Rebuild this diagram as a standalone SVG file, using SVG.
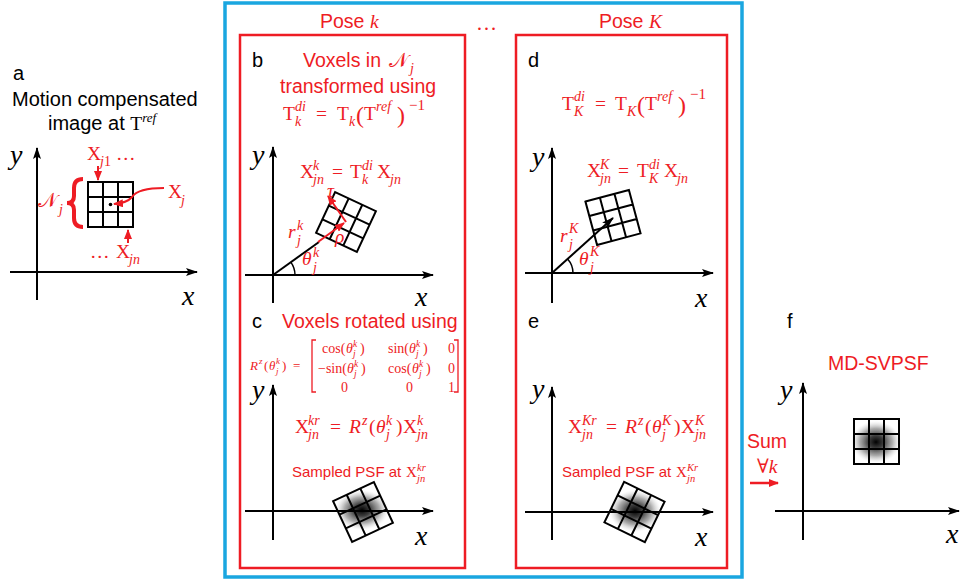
<svg xmlns="http://www.w3.org/2000/svg" xmlns:xlink="http://www.w3.org/1999/xlink" width="960" height="579" viewBox="0 0 960 579">
<defs>
<style>
.lbl{font-family:"Liberation Sans",Arial,sans-serif;font-size:20px;fill:#000}
.rs{font-family:"Liberation Sans",Arial,sans-serif;font-size:19.5px;fill:#ee1c24}
.m{font-family:"Liberation Serif","DejaVu Serif",serif;font-size:19.5px;fill:#ee1c24}
.it{font-style:italic}
.sc{font-size:14px}
.ax{stroke:#000;stroke-width:2;fill:none}
.axl{font-family:"Liberation Serif","DejaVu Serif",serif;font-style:italic;font-size:28px;fill:#000}
.gr{stroke:#000;stroke-width:2;fill:none}
.red{stroke:#ee1c24;fill:none}
</style>
<marker id="ab" viewBox="0 0 12 8" refX="11" refY="4" markerWidth="12" markerHeight="8" markerUnits="userSpaceOnUse" orient="auto"><path d="M0,0 L12,4 L0,8 L2.5,4 z" fill="#000"/></marker>
<marker id="ar" viewBox="0 0 10 8" refX="9" refY="4" markerWidth="10" markerHeight="8" markerUnits="userSpaceOnUse" orient="auto"><path d="M0,0 L10,4 L0,8 z" fill="#ee1c24"/></marker>
<radialGradient id="psf">
<stop offset="0" stop-color="#000" stop-opacity="1"/>
<stop offset="0.3" stop-color="#222" stop-opacity="0.88"/>
<stop offset="0.65" stop-color="#666" stop-opacity="0.55"/>
<stop offset="0.9" stop-color="#aaa" stop-opacity="0.15"/>
<stop offset="1" stop-color="#ccc" stop-opacity="0"/>
</radialGradient>
<g id="grid"><path class="gr" d="M-22.5,-22.5h45v45h-45z M-7.5,-22.5v45 M7.5,-22.5v45 M-22.5,-7.5h45 M-22.5,7.5h45"/></g>
</defs>
<rect width="960" height="579" fill="#fff"/>

<g id="frame">
<rect x="225" y="3" width="517" height="574" fill="none" stroke="#1aa6e0" stroke-width="3.5"/>
<rect x="240" y="35" width="225" height="533" fill="none" stroke="#ee1c24" stroke-width="2.5"/>
<rect x="516" y="35" width="211" height="533" fill="none" stroke="#ee1c24" stroke-width="2.5"/>
<text class="rs" x="320" y="28">Pose <tspan class="m it">k</tspan></text>
<text class="rs" x="599" y="28">Pose <tspan class="m it">K</tspan></text>
<text class="m" x="476" y="30" style="font-size:21px">…</text>
</g>

<g id="panel-a">
<text class="lbl" x="13" y="80">a</text>
<text class="lbl" x="12" y="106">Motion compensated</text>
<text class="lbl" x="48" y="130">image at <tspan class="m" style="fill:#000">T</tspan><tspan class="m it" style="fill:#000;font-size:13px" dy="-8">ref</tspan></text>
<line class="ax" x1="37" y1="300" x2="37" y2="148" marker-end="url(#ab)"/>
<line class="ax" x1="10" y1="272" x2="197" y2="272" marker-end="url(#ab)"/>
<text class="axl" x="10" y="164">y</text>
<text class="axl" x="182" y="305">x</text>
<rect x="88" y="182" width="45" height="45" class="gr"/>
<path class="gr" d="M103,182v45 M118,182v45 M88,197h45 M88,212h45"/>
<circle cx="110.5" cy="204.5" r="1.8" fill="#000"/>
<text class="m"><tspan x="87" y="160">X</tspan><tspan x="100" y="166" class="sc"><tspan class="it">j</tspan>1</tspan><tspan x="116" y="160">…</tspan></text>
<line class="red" stroke-width="2" x1="98" y1="166" x2="98" y2="180" marker-end="url(#ar)"/>
<text class="m"><tspan x="168" y="198">X</tspan><tspan x="181" y="205" class="sc it">j</tspan></text>
<path class="red" stroke-width="2" d="M164,188 Q138,188 132,197 Q127,203 114,204" marker-end="url(#ar)"/>
<text class="m"><tspan x="90" y="258">…</tspan><tspan x="116" y="258">X</tspan><tspan x="129" y="264" class="sc it">jn</tspan></text>
<line class="red" stroke-width="2" x1="128" y1="243" x2="128" y2="230" marker-end="url(#ar)"/>
<text class="m"><tspan x="38" y="207" style="font-size:20px">𝒩</tspan><tspan x="59" y="214" class="sc it">j</tspan></text>
<path class="red" stroke-width="4" d="M83,179 Q74,179 74,188 L74,196 Q74,203 67,203 Q74,203 74,210 L74,218 Q74,227 83,227"/>
</g>

<g id="panel-b">
<text class="lbl" x="252" y="67">b</text>
<text class="rs" x="303" y="67">Voxels in </text>
<text class="m"><tspan x="389" y="67" style="font-size:20px">𝒩</tspan><tspan x="410" y="73" class="sc it">j</tspan></text>
<text class="rs" x="280" y="93">transformed using</text>
<text class="m"><tspan x="283" y="120">T</tspan><tspan x="295" y="111" class="sc it">di</tspan><tspan x="295" y="126" class="sc it">k</tspan><tspan x="316" y="120">=</tspan><tspan x="337" y="120">T</tspan><tspan x="349" y="126" class="sc it">k</tspan><tspan x="356" y="123" style="font-size:24px">(</tspan><tspan x="364" y="120">T</tspan><tspan x="376" y="111" class="sc it">ref</tspan><tspan x="397" y="123" style="font-size:24px">)</tspan><tspan x="409" y="110" style="font-size:15px">−1</tspan></text>
<text class="m"><tspan x="300" y="178">X</tspan><tspan x="313" y="170" class="sc it">k</tspan><tspan x="313" y="184" class="sc it">jn</tspan><tspan x="332" y="178">=</tspan><tspan x="350" y="178">T</tspan><tspan x="362" y="170" class="sc it">di</tspan><tspan x="362" y="184" class="sc it">k</tspan><tspan x="377" y="178">X</tspan><tspan x="390" y="184" class="sc it">jn</tspan></text>
<line class="ax" x1="273" y1="303" x2="273" y2="147" marker-end="url(#ab)"/>
<line class="ax" x1="245" y1="275" x2="433" y2="275" marker-end="url(#ab)"/>
<text class="axl" x="252" y="164">y</text>
<text class="axl" x="415" y="306">x</text>
<use xlink:href="#grid" transform="translate(346,222) rotate(25)"/>
<line x1="273" y1="275" x2="319" y2="242" stroke="#000" stroke-width="2"/>
<line class="red" stroke-width="2" x1="318" y1="242" x2="344" y2="223" marker-end="url(#ar)"/>
<line class="red" stroke-width="2" x1="346" y1="222" x2="328" y2="196" marker-end="url(#ar)"/>
<path d="M295,275 A22,22 0 0 0 290.8,262.1" stroke="#000" stroke-width="1.5" fill="none"/>
<text class="m"><tspan x="288" y="238" class="it">r</tspan><tspan x="297" y="230" class="sc it">k</tspan><tspan x="297" y="245" class="sc it">j</tspan></text>
<text class="m"><tspan x="302" y="265" class="it">θ</tspan><tspan x="313" y="257" class="sc it">k</tspan><tspan x="313" y="272" class="sc it">j</tspan></text>
<text class="m it" x="327" y="197">τ</text>
<text class="m it" x="335" y="243">ρ</text>
</g>

<g id="panel-c">
<text class="lbl" x="252" y="328">c</text>
<text class="rs" x="282" y="328">Voxels rotated using</text>
<text class="m" style="font-size:13px"><tspan x="250" y="370" class="it">R</tspan><tspan x="259" y="364" class="it" style="font-size:9px">z</tspan><tspan x="264" y="370">(</tspan><tspan x="269" y="370" class="it">θ</tspan><tspan x="276" y="364" class="it" style="font-size:9px">k</tspan><tspan x="276" y="374" class="it" style="font-size:9px">j</tspan><tspan x="282" y="370">)</tspan><tspan x="293" y="370">=</tspan></text>
<path class="red" stroke-width="1.3" d="M316,340 h-4 v52 h4 M454,340 h4 v52 h-4"/>
<text class="m" style="font-size:14px"><tspan x="322" y="353">cos(</tspan><tspan x="346" y="353" class="it">θ</tspan><tspan x="353" y="347" class="it" style="font-size:9.5px">k</tspan><tspan x="353" y="357" class="it" style="font-size:9.5px">j</tspan><tspan x="360" y="353">)</tspan><tspan x="388" y="353">sin(</tspan><tspan x="409" y="353" class="it">θ</tspan><tspan x="416" y="347" class="it" style="font-size:9.5px">k</tspan><tspan x="416" y="357" class="it" style="font-size:9.5px">j</tspan><tspan x="423" y="353">)</tspan><tspan x="448" y="353">0</tspan></text>
<text class="m" style="font-size:14px"><tspan x="318" y="373">−sin(</tspan><tspan x="347" y="373" class="it">θ</tspan><tspan x="354" y="367" class="it" style="font-size:9.5px">k</tspan><tspan x="354" y="377" class="it" style="font-size:9.5px">j</tspan><tspan x="361" y="373">)</tspan><tspan x="388" y="373">cos(</tspan><tspan x="412" y="373" class="it">θ</tspan><tspan x="419" y="367" class="it" style="font-size:9.5px">k</tspan><tspan x="419" y="377" class="it" style="font-size:9.5px">j</tspan><tspan x="426" y="373">)</tspan><tspan x="448" y="373">0</tspan></text>
<text class="m" style="font-size:14px"><tspan x="341" y="392">0</tspan><tspan x="406" y="392">0</tspan><tspan x="448" y="392">1</tspan></text>
<text class="m"><tspan x="295" y="433">X</tspan><tspan x="308" y="425" class="sc it">kr</tspan><tspan x="308" y="439" class="sc it">jn</tspan><tspan x="330" y="433">=</tspan><tspan x="349" y="433" class="it">R</tspan><tspan x="362" y="425" class="sc it">z</tspan><tspan x="369" y="433">(</tspan><tspan x="376" y="433" class="it">θ</tspan><tspan x="386" y="425" class="sc it">k</tspan><tspan x="386" y="439" class="sc it">j</tspan><tspan x="396" y="433">)</tspan><tspan x="403" y="433">X</tspan><tspan x="417" y="425" class="sc it">k</tspan><tspan x="417" y="439" class="sc it">jn</tspan></text>
<text class="rs" x="292" y="477" style="font-size:15px">Sampled PSF at </text>
<text class="m" style="font-size:15px"><tspan x="406" y="477">X</tspan><tspan x="417" y="471" class="it" style="font-size:10.5px">kr</tspan><tspan x="417" y="482" class="it" style="font-size:10.5px">jn</tspan></text>
<ellipse cx="362" cy="510" rx="27" ry="20" fill="url(#psf)"/>
<line class="ax" x1="273" y1="540" x2="273" y2="385" marker-end="url(#ab)"/>
<line class="ax" x1="245" y1="511" x2="433" y2="511" marker-end="url(#ab)"/>
<text class="axl" x="252" y="399">y</text>
<text class="axl" x="415" y="545">x</text>
<use xlink:href="#grid" transform="translate(363,512) rotate(-25)"/>
</g>

<g id="panel-d">
<text class="lbl" x="528" y="67">d</text>
<text class="m"><tspan x="562" y="110">T</tspan><tspan x="574" y="101" class="sc it">di</tspan><tspan x="574" y="116" class="sc it">K</tspan><tspan x="595" y="110">=</tspan><tspan x="615" y="110">T</tspan><tspan x="627" y="116" class="sc it">K</tspan><tspan x="637" y="113" style="font-size:24px">(</tspan><tspan x="645" y="110">T</tspan><tspan x="657" y="101" class="sc it">ref</tspan><tspan x="678" y="113" style="font-size:24px">)</tspan><tspan x="690" y="99" style="font-size:15px">−1</tspan></text>
<text class="m"><tspan x="587" y="177">X</tspan><tspan x="600" y="169" class="sc it">K</tspan><tspan x="600" y="183" class="sc it">jn</tspan><tspan x="618" y="177">=</tspan><tspan x="637" y="177">T</tspan><tspan x="649" y="169" class="sc it">di</tspan><tspan x="649" y="183" class="sc it">K</tspan><tspan x="664" y="177">X</tspan><tspan x="677" y="183" class="sc it">jn</tspan></text>
<line class="ax" x1="552" y1="303" x2="552" y2="148" marker-end="url(#ab)"/>
<line class="ax" x1="525" y1="273" x2="713" y2="273" marker-end="url(#ab)"/>
<text class="axl" x="532" y="166">y</text>
<text class="axl" x="695" y="307">x</text>
<use xlink:href="#grid" transform="translate(613,217.5) rotate(-15)"/>
<line class="ax" x1="552" y1="273" x2="613" y2="218" marker-end="url(#ab)"/>
<path d="M573,273 A21,21 0 0 0 567.6,258.9" stroke="#000" stroke-width="1.5" fill="none"/>
<text class="m"><tspan x="560" y="242" class="it">r</tspan><tspan x="569" y="233" class="sc it">K</tspan><tspan x="569" y="249" class="sc it">j</tspan></text>
<text class="m"><tspan x="579" y="265" class="it">θ</tspan><tspan x="590" y="256" class="sc it">K</tspan><tspan x="590" y="272" class="sc it">j</tspan></text>
</g>

<g id="panel-e">
<text class="lbl" x="528" y="328">e</text>
<text class="m"><tspan x="568" y="433">X</tspan><tspan x="582" y="425" class="sc it">Kr</tspan><tspan x="582" y="439" class="sc it">jn</tspan><tspan x="606" y="433">=</tspan><tspan x="625" y="433" class="it">R</tspan><tspan x="638" y="425" class="sc it">z</tspan><tspan x="645" y="433">(</tspan><tspan x="652" y="433" class="it">θ</tspan><tspan x="662" y="425" class="sc it">K</tspan><tspan x="662" y="439" class="sc it">j</tspan><tspan x="674" y="433">)</tspan><tspan x="681" y="433">X</tspan><tspan x="695" y="425" class="sc it">K</tspan><tspan x="695" y="439" class="sc it">jn</tspan></text>
<text class="rs" x="562" y="477" style="font-size:15px">Sampled PSF at </text>
<text class="m" style="font-size:15px"><tspan x="676" y="477">X</tspan><tspan x="687" y="471" class="it" style="font-size:10.5px">Kr</tspan><tspan x="687" y="482" class="it" style="font-size:10.5px">jn</tspan></text>
<ellipse cx="635" cy="511" rx="26" ry="21" fill="url(#psf)"/>
<line class="ax" x1="552" y1="540" x2="552" y2="387" marker-end="url(#ab)"/>
<line class="ax" x1="525" y1="512" x2="713" y2="512" marker-end="url(#ab)"/>
<text class="axl" x="532" y="398">y</text>
<text class="axl" x="695" y="546">x</text>
<use xlink:href="#grid" transform="translate(634.5,512) rotate(26)"/>
</g>

<g id="panel-f">
<text class="lbl" x="787" y="328">f</text>
<text class="rs" x="828" y="370">MD-SVPSF</text>
<ellipse cx="876" cy="442" rx="25" ry="21" fill="url(#psf)"/>
<line class="ax" x1="803" y1="540" x2="803" y2="383" marker-end="url(#ab)"/>
<line class="ax" x1="775" y1="511" x2="959" y2="511" marker-end="url(#ab)"/>
<text class="axl" x="780" y="399">y</text>
<text class="axl" x="946" y="543">x</text>
<use xlink:href="#grid" transform="translate(876.5,441.5)"/>
</g>

<g id="connectors">
<text class="rs" x="747" y="448">Sum</text>
<text class="m" x="757" y="473"><tspan>∀</tspan><tspan class="it">k</tspan></text>
<line class="red" stroke-width="2.5" x1="750" y1="483" x2="778" y2="483" marker-end="url(#ar)"/>
</g>
</svg>
